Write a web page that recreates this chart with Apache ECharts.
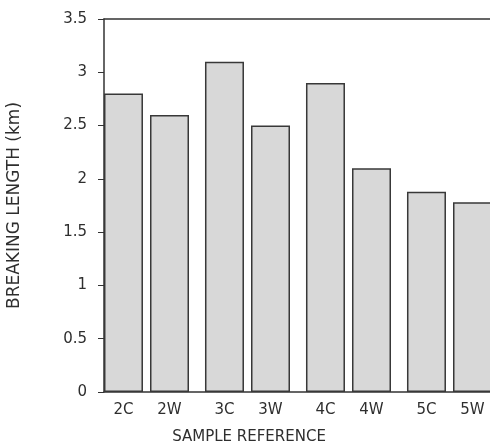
<!DOCTYPE html>
<html>
<head>
<meta charset="utf-8">
<script src="https://cdn.jsdelivr.net/npm/echarts@6/dist/echarts.min.js"></script>
<style>
  html, body { margin: 0; padding: 0; background: #fff; }
  #main { width: 490px; height: 444px; }
</style>
</head>
<body>
<div id="main"></div>
<script>
	// sample groups, each with a C and a W bar
	var groups = ['2', '3', '4', '5'];
	var values_c = [2.8, 3.1, 2.9, 1.88];
	var values_w = [2.6, 2.5, 2.1, 1.78];
	var y_ticks = { min: 0, max: 3.5, interval: 0.5 };

	var font = 'DejaVu Sans, sans-serif';
	var ink = '#2e2e2e';

	var myChart = echarts.init(document.getElementById('main'));

	var barStyle = {
		color: '#d8d8d8',
		borderColor: '#383838',
		borderWidth: 1.5
	};

	var option = {
		animation: false,
		backgroundColor: '#fff',
		// last bar runs off the right edge, so no outer bounds clamp
		grid: { left: 104, top: 19, bottom: 52, width: 404, outerBoundsMode: 'none', containLabel: false },
		xAxis: [{
			type: 'category',
			data: groups,
			name: 'SAMPLE REFERENCE',
			nameLocation: 'middle',
			nameGap: 38,
			nameTextStyle: { fontFamily: font, fontSize: 15, color: ink, padding: [0, 114, 0, 0] },
			axisLine: { lineStyle: { color: '#333', width: 1.5 } },
			axisTick: { show: false },
			axisLabel: {
				interval: 0,
				margin: 11,
				fontFamily: font,
				fontSize: 15,
				color: ink,
				// put the C / W label under its own bar
				formatter: function (g) {
					return '{c|' + g + 'C}{g| }{w|' + g + 'W}{t| }';
				},
				rich: {
					c: { width: 39, align: 'center', fontFamily: font, fontSize: 15, color: ink },
					g: { width: 7 },
					w: { width: 39, align: 'center', fontFamily: font, fontSize: 15, color: ink },
					t: { width: 16 }
				}
			}
		}, {
			// frame line along the top
			type: 'category',
			position: 'top',
			data: groups,
			axisLine: { lineStyle: { color: '#333', width: 1.5 } },
			axisTick: { show: false },
			axisLabel: { show: false }
		}],
		yAxis: {
			type: 'value',
			min: y_ticks.min,
			max: y_ticks.max,
			interval: y_ticks.interval,
			name: 'BREAKING LENGTH (km)',
			nameLocation: 'middle',
			nameGap: 81,
			nameTextStyle: { fontFamily: font, fontSize: 17, color: ink },
			axisLine: { show: true, lineStyle: { color: '#333', width: 1.5 } },
			axisTick: { show: true, length: 6, lineStyle: { color: '#333' } },
			splitLine: { show: false },
			axisLabel: { margin: 17, fontFamily: font, fontSize: 15, color: ink }
		},
		series: [{
			name: 'C',
			type: 'bar',
			barWidth: 39,
			barGap: '18%',
			itemStyle: barStyle,
			data: values_c
		}, {
			name: 'W',
			type: 'bar',
			barWidth: 39,
			barGap: '18%',
			itemStyle: barStyle,
			data: values_w
		}, {
			// empty series, only keeps the wider gap between the pairs
			name: 'gap',
			type: 'bar',
			barWidth: 9,
			barGap: '18%',
			silent: true,
			data: []
		}]
	};

	myChart.setOption(option);
</script>
</body>
</html>
